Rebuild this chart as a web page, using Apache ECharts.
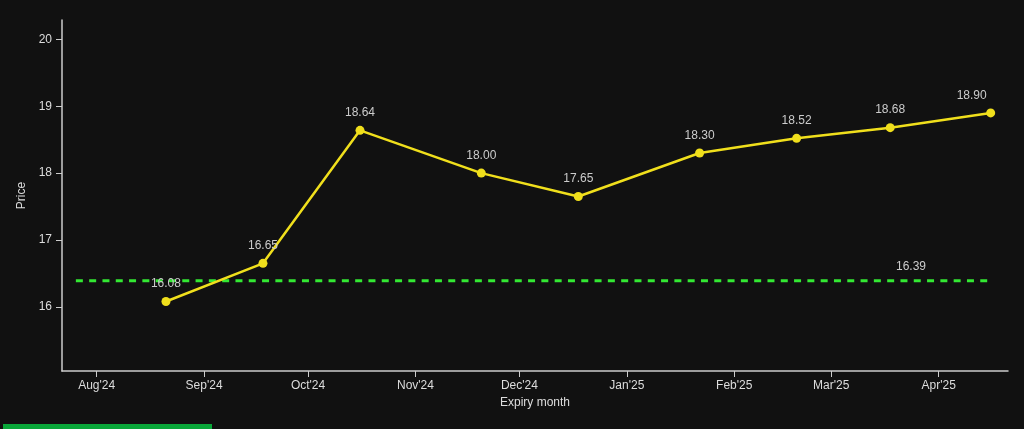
<!DOCTYPE html>
<html>
<head>
<meta charset="utf-8">
<script src="https://cdn.jsdelivr.net/npm/echarts@6/dist/echarts.min.js"></script>
<style>
  html, body { margin: 0; padding: 0; background: #111111; }
  #chart { width: 1024px; height: 429px; }
</style>
</head>
<body>
<div id="chart"></div>
<script>
// expiry dates and settlement prices
const expiries = ['2024-08-21', '2024-09-18', '2024-10-16', '2024-11-20', '2024-12-18',
                  '2025-01-22', '2025-02-19', '2025-03-18', '2025-04-16'];
const prices = [16.08, 16.65, 18.64, 18.00, 17.65, 18.30, 18.52, 18.68, 18.90];

// spot reference line
const spotValue = 16.39;
const spotDates = ['2024-07-26', '2025-03-24', '2025-04-15'];

// axis ticks
const monthTicks = ['2024-08-01', '2024-09-01', '2024-10-01', '2024-11-01', '2024-12-01',
                    '2025-01-01', '2025-02-01', '2025-03-01', '2025-04-01'];
const priceTicks = [16, 17, 18, 19, 20];

const monthNames = ['Jan', 'Feb', 'Mar', 'Apr', 'May', 'Jun', 'Jul', 'Aug', 'Sep', 'Oct', 'Nov', 'Dec'];
const toTime = s => Date.UTC(+s.slice(0, 4), +s.slice(5, 7) - 1, +s.slice(8, 10));

const chart = echarts.init(document.getElementById('chart'));

const option = {
  backgroundColor: '#111111',
  animation: false,
  textStyle: { fontFamily: 'Liberation Sans, Arial, sans-serif' },
  grid: { left: 62, right: 16, top: 20, bottom: 58, containLabel: false },
  xAxis: {
    type: 'value',
    min: toTime('2024-07-22'),
    max: toTime('2025-04-21'),
    name: 'Expiry month',
    nameLocation: 'middle',
    nameGap: 26,
    nameTextStyle: { color: '#dddddd', fontSize: 12 },
    splitLine: { show: false },
    axisLine: { lineStyle: { color: '#cccccc', width: 1.5 } },
    axisTick: {
      customValues: monthTicks.map(toTime),
      length: 6,
      lineStyle: { color: '#cccccc' }
    },
    axisLabel: {
      customValues: monthTicks.map(toTime),
      color: '#dddddd',
      fontSize: 12,
      margin: 9,
      formatter: v => {
        const d = new Date(v);
        return monthNames[d.getUTCMonth()] + "'" + String(d.getUTCFullYear()).slice(2);
      }
    }
  },
  yAxis: {
    type: 'value',
    min: 15.04,
    max: 20.29,
    name: 'Price',
    nameLocation: 'middle',
    nameGap: 32,
    nameRotate: 90,
    nameTextStyle: { color: '#dddddd', fontSize: 12 },
    splitLine: { show: false },
    axisLine: { show: true, lineStyle: { color: '#cccccc', width: 1.5 } },
    axisTick: {
      show: true,
      customValues: priceTicks,
      length: 6,
      lineStyle: { color: '#cccccc' }
    },
    axisLabel: {
      customValues: priceTicks,
      color: '#dddddd',
      fontSize: 12,
      margin: 10
    }
  },
  series: [
    {
      type: 'line',
      data: spotDates.map((d, i) => ({
        value: [toTime(d), spotValue],
        label: { show: i === 1 }
      })),
      symbol: 'circle',
      symbolSize: 0,
      showSymbol: true,
      lineStyle: { color: '#33e833', width: 3, type: [7, 6.3] },
      itemStyle: { color: '#33e833' },
      label: {
        position: 'top',
        distance: 8,
        color: '#cccccc',
        fontSize: 12,
        formatter: () => spotValue.toFixed(2)
      },
      z: 1
    },
    {
      type: 'line',
      data: expiries.map((d, i) => ({
        value: [toTime(d), prices[i]],
        label: i === expiries.length - 1 ? { offset: [-19, 0] } : {}
      })),
      symbol: 'circle',
      symbolSize: 9,
      lineStyle: { color: '#f0df1c', width: 2.5 },
      itemStyle: { color: '#f0df1c' },
      label: {
        show: true,
        position: 'top',
        distance: 7,
        color: '#cccccc',
        fontSize: 12,
        formatter: p => p.value[1].toFixed(2)
      },
      z: 2
    }
  ],
  graphic: [
    {
      type: 'rect',
      left: 3,
      top: 424,
      shape: { width: 209, height: 5 },
      style: { fill: '#0aa83a' }
    }
  ]
};

chart.setOption(option);
</script>
</body>
</html>
